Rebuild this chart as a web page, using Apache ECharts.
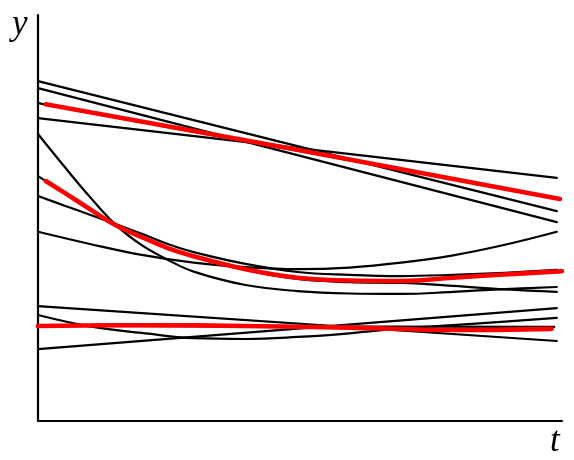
<!DOCTYPE html>
<html>
<head>
<meta charset="utf-8">
<script src="https://cdn.jsdelivr.net/npm/echarts@6/dist/echarts.min.js"></script>
<style>html,body{margin:0;padding:0;background:#fff}#c{width:574px;height:460px}</style>
</head>
<body>
<div id="c"></div>
<script>
// ---- data (t on horizontal axis, y on vertical axis) ----
const tGrid = [0, 0.5, 1, 1.5, 2, 2.5, 3, 4, 5, 6, 7, 8, 9, 10];
const tEnds = [0, 10];
const tCoarse = [0, 1, 2, 3, 4, 5, 6, 7, 8, 9, 10];

// upper cluster
const upper1 = [8.37, 5.17];
const upper2 = [8.20, 4.90];
const upper3 = [7.46, 5.99];
const upper4 = [7.83, 5.49];
const upperRedT = [0.15, 5, 10.06];
const upperRed = [7.80, 6.68, 5.47];

// middle cluster
const middle1 = [7.07, 6.28, 5.52, 4.83, 4.33, 3.97, 3.68, 3.35, 3.20, 3.14, 3.13, 3.18, 3.25, 3.30];
const middle2 = [5.54, 5.31, 5.08, 4.85, 4.61, 4.36, 4.16, 3.87, 3.67, 3.60, 3.57, 3.60, 3.65, 3.72];
const middle3 = [4.66, 4.36, 4.09, 3.90, 3.79, 3.74, 3.78, 3.90, 4.08, 4.34, 4.66];
const middle4 = [6.03, 5.63, 5.22, 4.82, 4.53, 4.26, 4.04, 3.72, 3.50, 3.42, 3.40, 3.33, 3.24, 3.18];
const middleRedT = [0.15, 0.5, 1, 1.5, 2, 2.5, 3, 4, 5, 6, 7, 8, 9, 10.1];
const middleRed = [5.91, 5.63, 5.22, 4.82, 4.53, 4.26, 4.06, 3.74, 3.53, 3.46, 3.45, 3.53, 3.61, 3.69];

// lower cluster
const lower1 = [2.83, 1.97];
const lower2 = [2.61, 2.33, 2.17, 2.04, 2.02, 2.07, 2.16, 2.28, 2.36, 2.45, 2.54];
const lower3 = [1.77, 2.78];
const lower4T = [0, 9.95];
const lower4 = [2.34, 2.32];
const lowerRedT = [0, 2, 4, 6, 8, 9.9];
const lowerRed = [2.34, 2.36, 2.34, 2.30, 2.24, 2.27];

const axisLabels = { y: 'y', t: 't' };

// ---- build ----
function zip(ts, ys) { return ts.map((t, i) => [t, ys[i]]); }
function line(ts, ys, color, width) {
  return {
    type: 'line', data: zip(ts, ys), showSymbol: false, smooth: ys.length > 3 ? 0.4 : false,
    clip: false, silent: true,
    lineStyle: { color: color, width: width, cap: 'round', join: 'round' }
  };
}
const BLACK = '#000000', RED = '#ff0000', BW = 2.2, RW = 4.6;
const series = [
  line(tEnds, upper1, BLACK, BW),
  line(tEnds, upper2, BLACK, BW),
  line(tEnds, upper3, BLACK, BW),
  line(tEnds, upper4, BLACK, BW),
  line(tGrid, middle1, BLACK, BW),
  line(tGrid, middle2, BLACK, BW),
  line(tCoarse, middle3, BLACK, BW),
  line(tGrid, middle4, BLACK, BW),
  line(tEnds, lower1, BLACK, BW),
  line(tCoarse, lower2, BLACK, BW),
  line(tEnds, lower3, BLACK, BW),
  line(lower4T, lower4, BLACK, BW),
  line(upperRedT, upperRed, RED, RW),
  line(middleRedT, middleRed, RED, RW),
  line(lowerRedT, lowerRed, RED, RW)
];

const chart = echarts.init(document.getElementById('c'), null, { renderer: 'canvas' });
const axisCommon = {
  type: 'value',
  axisLine: { show: true, lineStyle: { color: '#000', width: 2.2 } },
  axisTick: { show: false }, axisLabel: { show: false }, splitLine: { show: false }
};
chart.setOption({
  animation: false,
  backgroundColor: '#fff',
  grid: { left: 38, right: 12, top: 15, bottom: 39 },
  xAxis: Object.assign({}, axisCommon, { min: 0, max: 10.1 }),
  yAxis: Object.assign({}, axisCommon, { min: 0, max: 10 }),
  series: series,
  graphic: [
    { type: 'text', left: 12, top: 7, style: { text: axisLabels.y, font: 'italic 35px "Liberation Serif"', fill: '#000' } },
    { type: 'text', left: 550, top: 424, style: { text: axisLabels.t, font: 'italic 35px "Liberation Serif"', fill: '#000' } }
  ]
});
</script>
</body>
</html>
